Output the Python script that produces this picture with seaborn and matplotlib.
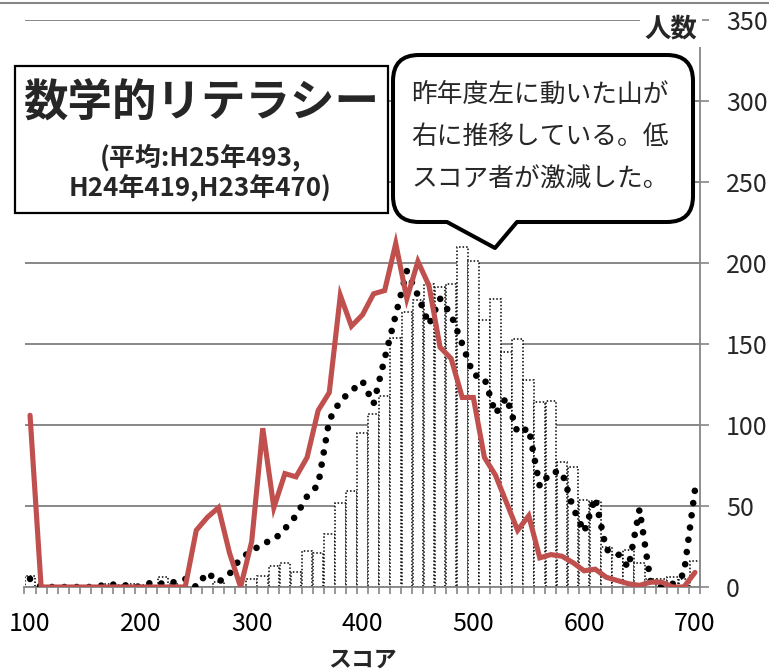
import matplotlib
matplotlib.use('Agg')
import matplotlib.pyplot as plt
import seaborn as sns
import pandas as pd
import numpy as np
from matplotlib.path import Path
from matplotlib.patches import PathPatch, Rectangle
from matplotlib.lines import Line2D
from matplotlib.transforms import Affine2D

# ==========================================
# スタイル設定
# ==========================================
sns.set_theme(style='white')
plt.rcParams['font.family'] = ['Noto Sans CJK JP', 'DejaVu Sans']

# ==========================================
# データ (スコア階級ごとの人数)
# ==========================================
scores = [100, 110, 120, 130, 140, 150, 160, 170, 180, 190,
          200, 210, 220, 230, 240, 250, 260, 270, 280, 290,
          300, 310, 320, 330, 340, 350, 360, 370, 380, 390,
          400, 410, 420, 430, 440, 450, 460, 470, 480, 490,
          500, 510, 520, 530, 540, 550, 560, 570, 580, 590,
          600, 610, 620, 630, 640, 650, 660, 670, 680, 690,
          700]

# H25 (棒グラフ)
h25_counts = [7, 0, 0, 0, 0, 0, 0, 2, 1, 2,
              1, 0, 6, 2, 0, 0, 0, 3, 0, 0,
              5, 7, 13, 15, 9, 22, 21, 33, 52, 59,
              95, 107, 118, 154, 170, 177, 187, 185, 187, 210,
              201, 165, 178, 145, 153, 128, 114, 115, 77, 74,
              54, 53, 25, 20, 23, 15, 5, 5, 6, 5,
              16]

# H24 (赤線)
h24_counts = [106, 0, 0, 0, 0, 0, 0, 0, 0, 0,
              0, 0, 0, 0, 0, 35, 43, 49, 21, 0,
              28, 98, 49, 70, 68, 80, 109, 120, 180, 161,
              168, 181, 183, 212, 178, 201, 186, 148, 141, 117,
              117, 80, 69, 52, 35, 44, 18, 20, 19, 15,
              10, 11, 6, 4, 2, 1, 3, 3, 0, 0,
              9]

# H23 (点線)
h23_counts = [5, 0, 0, 0, 0, 0, 0, 2, 1, 1,
              0, 3, 2, 3, 5, 0, 9, 3, 8, 18,
              22, 27, 29, 36, 44, 56, 63, 103, 115, 121,
              127, 113, 141, 168, 195, 180, 162, 178, 168, 150,
              131, 129, 107, 117, 95, 98, 62, 71, 71, 49,
              34, 55, 23, 21, 12, 48, 3, 0, 2, 8,
              60]

x_labels = ['100', '200', '300', '400', '500', '600', '700']
y_ticks = [0, 50, 100, 150, 200, 250, 300, 350]

df = pd.DataFrame({'score': scores, 'H25': h25_counts,
                   'H24': h24_counts, 'H23': h23_counts})

W, H = 769, 672
GRAY = '#868686'
RED = '#C0504D'

fig = plt.figure(figsize=(W / 100, H / 100), dpi=100)
ax = fig.add_axes([24.5 / W, 1 - 587 / H, 676 / W, 567 / H])

# 棒グラフ (白塗り・点線枠)
sns.barplot(data=df, x='score', y='H25', native_scale=True, orient='x',
            width=0.96, color='white', saturation=1, errorbar=None,
            edgecolor='black', linewidth=1.1, linestyle=(0, (1, 1.3)),
            zorder=2, ax=ax)

# H23 点線
sns.lineplot(data=df, x='score', y='H23', color='black', linewidth=4.8,
             linestyle=(0, (0.001, 1.85)), dash_capstyle='round', zorder=3, ax=ax)

# H24 赤線
sns.lineplot(data=df, x='score', y='H24', color=RED, linewidth=3.7,
             solid_joinstyle='miter', zorder=4, ax=ax)

ax.set_xlim(95, 705)
ax.set_ylim(0, 350)
ax.set_xticks([int(s) for s in x_labels])
ax.set_xticklabels(x_labels)
ax.set_xticks(np.arange(95, 706, 10), minor=True)
ax.yaxis.tick_right()
ax.set_yticks(y_ticks)
ax.set_yticklabels([str(v) for v in y_ticks])

ax.set_ylabel('')
ax.set_xlabel('スコア', fontsize=16.5, fontweight='bold', labelpad=9)

for s in ['left', 'top']:
    ax.spines[s].set_visible(False)
for s in ['right', 'bottom']:
    ax.spines[s].set_color(GRAY)
    ax.spines[s].set_linewidth(1.3)

ax.tick_params(axis='x', which='major', length=0, pad=17, labelsize=18, colors='black')
ax.tick_params(axis='x', which='minor', length=5, width=1.2, color=GRAY,
               direction='out', bottom=True)
ax.tick_params(axis='y', which='major', length=6.5, width=1.2, color=GRAY,
               direction='out', pad=12, labelsize=18, right=True, left=False)

ax.yaxis.grid(True, color='#878787', linewidth=1.4)
ax.xaxis.grid(False)
ax.set_axisbelow(True)

# ==========================================
# 注釈 (ピクセル座標, 左上原点)
# ==========================================
px = Affine2D().scale(1 / W, -1 / H).translate(0, 1) + fig.transFigure

fig.add_artist(Line2D([0, W], [3, 3], transform=px, color=GRAY, lw=1.5))

# 人数 ラベル
fig.text(671, 29, '人数', transform=px, ha='center', va='center',
         fontsize=19, fontweight='bold', zorder=7,
         bbox=dict(facecolor='white', edgecolor='none', pad=3))

# タイトル枠
fig.add_artist(Rectangle((15, 66), 373, 147, transform=px, facecolor='white',
                         edgecolor='black', lw=1.6, zorder=5))
fig.text(201, 103, '数学的リテラシー', transform=px, ha='center', va='center',
         fontsize=32, fontweight='bold', zorder=6)
fig.text(200, 157, '(平均:H25年493,', transform=px, ha='center', va='center',
         fontsize=18.7, fontweight='bold', zorder=6)
fig.text(200, 188, 'H24年419,H23年470)', transform=px, ha='center', va='center',
         fontsize=18.7, fontweight='bold', zorder=6)

# 吹き出し
L, R, T, B, r = 393, 693, 55, 222, 26
verts = [(L + r, T), (R - r, T), (R, T), (R, T + r), (R, B - r), (R, B), (R - r, B),
         (517, B), (495, 248), (447, B), (L + r, B), (L, B), (L, B - r),
         (L, T + r), (L, T), (L + r, T), (L + r, T)]
codes = [Path.MOVETO, Path.LINETO, Path.CURVE3, Path.CURVE3, Path.LINETO,
         Path.CURVE3, Path.CURVE3, Path.LINETO, Path.LINETO, Path.LINETO,
         Path.LINETO, Path.CURVE3, Path.CURVE3, Path.LINETO, Path.CURVE3,
         Path.CURVE3, Path.CLOSEPOLY]
fig.add_artist(PathPatch(Path(verts, codes), transform=px, facecolor='white',
                         edgecolor='black', lw=2.9, joinstyle='round', zorder=5))

bubble_lines = ['昨年度左に動いた山が', '右に推移している。低', 'スコア者が激減した。']
for yy, line in zip([95, 137, 180], bubble_lines):
    fig.text(411, yy, line, transform=px, ha='left', va='center',
             fontsize=18.5, zorder=6)

fig.savefig('out.png', dpi=100)
